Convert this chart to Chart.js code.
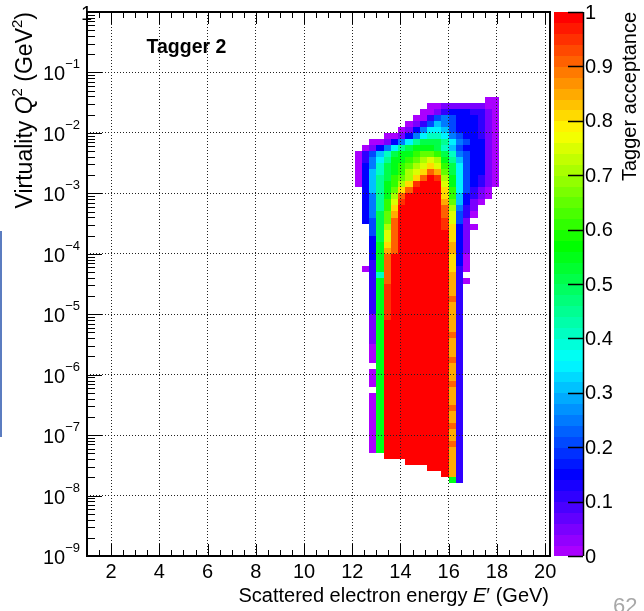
<!DOCTYPE html>
<html>
<head>
<meta charset="utf-8">
<title>Tagger 2 acceptance</title>
<script src="https://cdn.jsdelivr.net/npm/chart.js@4.4.0/dist/chart.umd.min.js"></script>
<style>
    html, body { margin: 0; padding: 0; background: #fff; }
    #wrap { position: relative; width: 644px; height: 611px; overflow: hidden; }
    #slide_edge { position: absolute; left: 0; top: 231px; width: 2px; height: 206px; background: #5b7cc0; }
    #page_no { position: absolute; left: 613px; top: 593px; font: 22px "Liberation Sans", Arial, sans-serif; color: #a8a8a8; }
</style>
</head>
<body>
<div id="wrap">
    <canvas id="acceptance" width="644" height="611"></canvas>
    <div id="slide_edge"></div>
    <div id="page_no">62</div>
</div>
<script>

// bin edges of the scattered electron energy E' (GeV)
const energy_edges = [12.1, 12.4, 12.7, 13.0, 13.3, 13.6, 13.9, 14.2, 14.5, 14.8,
                      15.1, 15.4, 15.7, 16.0, 16.3, 16.6, 16.9, 17.2, 17.5, 17.8, 18.1];

// bin edges in log10(Q2 / GeV2), top row first
const log_q2_edges = [-1.4, -1.5, -1.6, -1.7, -1.8, -1.9, -2.0, -2.1, -2.2, -2.3,
                      -2.4, -2.5, -2.6, -2.7, -2.8, -2.9, -3.0, -3.1, -3.2, -3.3,
                      -3.4, -3.5, -3.6, -3.7, -3.8, -3.9, -4.0, -4.1, -4.2, -4.3,
                      -4.4, -4.5, -4.6, -4.7, -4.8, -4.9, -5.0, -5.1, -5.2, -5.3,
                      -5.4, -5.5, -5.6, -5.7, -5.8, -5.9, -6.0, -6.1, -6.2, -6.3,
                      -6.4, -6.5, -6.6, -6.7, -6.8, -6.9, -7.0, -7.1, -7.2, -7.3,
                      -7.4, -7.5, -7.6, -7.7, -7.8];

// acceptance per cell: one character per energy bin, '.' = empty bin
const level_codes = "0123456789ABCDEFGHIJK";
const acceptance_levels = [0, 0.05, 0.1, 0.15, 0.2, 0.25, 0.3, 0.35, 0.4, 0.45, 0.5,
                           0.55, 0.6, 0.65, 0.7, 0.75, 0.8, 0.85, 0.9, 0.95, 1.0];

const acceptance_rows = [
    "..................00",
    "..........0011111100",
    ".........00123332210",
    "........002454333210",
    ".......0124654333210",
    "......01357764333210",
    "....0013578875433210",
    "..0013579AAA97543310",
    ".013579ABBBA86433310",
    "02468ABBCDDCA8543310",
    "02579BBCDEFEB9643310",
    "0358ABCDEFGFCA743310",
    "0368ABCEFGIHDA743310",
    "0369ACDEGIKJEB743210",
    "0369BCEGJKKKFB743210",
    ".369BDGIKKKKGC74210.",
    ".359BEIKKKKKGC63210.",
    ".359CFJKKKKKHD6310..",
    ".359CGKKKKKKIE521...",
    ".35ADHKKKKKKIF420...",
    ".34ADIKKKKKKJF41....",
    "..4AEIKKKKKKJG310...",
    "..4AFIKKKKKKKG31....",
    "..3AFIKKKKKKKG31....",
    "..3BGIKKKKKKKH31....",
    "..3BHIKKKKKKKH31....",
    "..3BIKKKKKKKKG30....",
    "..2BIKKKKKKKKG30....",
    ".02BIKKKKKKKKG20....",
    "..28IKKKKKKKKH2.....",
    "..2BIKKKKKKKKH20....",
    "..2BJKKKKKKKKH2.....",
    "..2BJKKKKKKKKH2.....",
    "..2BJKKKKKKKKI2.....",
    "..2BJKKKKKKKKH2.....",
    "..2BJKKKKKKKKH2.....",
    "..1BJKKKKKKKKH2.....",
    "..1BKKKKKKKKKH2.....",
    "..1BKKKKKKKKKH2.....",
    "..1BKKKKKKKKKI2.....",
    "..1BKKKKKKKKKH2.....",
    "..0BKKKKKKKKKH2.....",
    "..0BKKKKKKKKKH2.....",
    "..0BKKKKKKKKKI2.....",
    "...BKKKKKKKKKH2.....",
    "..0BKKKKKKKKKH2.....",
    "..0BKKKKKKKKKH2.....",
    "..0BKKKKKKKKKI2.....",
    "...BKKKKKKKKKH2.....",
    "..0BKKKKKKKKKH2.....",
    "..0BKKKKKKKKKH2.....",
    "..0BKKKKKKKKKI2.....",
    "..0BKKKKKKKKKH2.....",
    "..0BKKKKKKKKKH2.....",
    "..0BKKKKKKKKKI2.....",
    "..0BKKKKKKKKKH2.....",
    "..0BKKKKKKKKKH2.....",
    "..0BKKKKKKKKKI2.....",
    "..0BKKKKKKKKKH2.....",
    "....KKKKKKKKKH2.....",
    ".......KKKKKKH2.....",
    "..........KKKH2.....",
    "............KH2.....",
    ".............B2....."
];

const energy_ticks = [2, 4, 6, 8, 10, 12, 14, 16, 18, 20];
const q2_tick_exponents = [-9, -8, -7, -6, -5, -4, -3, -2, -1, 0];
const acceptance_ticks = [0, 0.1, 0.2, 0.3, 0.4, 0.5, 0.6, 0.7, 0.8, 0.9, 1];
const acceptance_tick_labels = ["0", "0.1", "0.2", "0.3", "0.4", "0.5", "0.6", "0.7", "0.8", "0.9", "1"];

const FONT = "'Liberation Sans', Arial, Helvetica, sans-serif";
const BAR_LEFT = 554;
const BAR_RIGHT = 583;

// violet -> red rainbow in 50 steps
function palette_color(v) {
    const band = Math.min(49, Math.floor(v * 50 + 1e-9));
    const hue = 280 * (1 - band / 49);
    return `hsl(${hue.toFixed(1)}, 100%, 50%)`;
}

const cells = [];
acceptance_rows.forEach((row, r) => {
    [...row].forEach((code, c) => {
        if (code === '.') return;
        cells.push({
            x: (energy_edges[c] + energy_edges[c + 1]) / 2,
            y: Math.pow(10, (log_q2_edges[r] + log_q2_edges[r + 1]) / 2),
            e_lo: energy_edges[c],
            e_hi: energy_edges[c + 1],
            q_hi: Math.pow(10, log_q2_edges[r]),
            q_lo: Math.pow(10, log_q2_edges[r + 1]),
            v: acceptance_levels[level_codes.indexOf(code)]
        });
    });
});

// text with mixed styles, right aligned at (x, y)
function draw_rich(ctx, segs, x, y) {
    let total = 0;
    segs.forEach(s => { ctx.font = s.font; s.w = ctx.measureText(s.t).width; total += s.w; });
    let pos = x - total;
    ctx.textAlign = 'left';
    segs.forEach(s => {
        ctx.font = s.font;
        ctx.fillText(s.t, pos, y + (s.dy || 0));
        pos += s.w;
    });
}

const cellPainter = {
    id: 'cellPainter',
    beforeDatasetsDraw(chart) {
        const { ctx, scales: { x, y } } = chart;
        ctx.save();
        chart.data.datasets[0].data.forEach(cell => {
            const left = Math.round(x.getPixelForValue(cell.e_lo));
            const right = Math.round(x.getPixelForValue(cell.e_hi));
            const top = Math.round(y.getPixelForValue(cell.q_hi));
            const bottom = Math.round(y.getPixelForValue(cell.q_lo));
            ctx.fillStyle = palette_color(cell.v);
            ctx.fillRect(left, top, right - left, bottom - top);
        });
        ctx.restore();
    }
};

const frameAndLabels = {
    id: 'frameAndLabels',
    afterDraw(chart) {
        const { ctx, chartArea: area, scales: { x, y, z } } = chart;
        ctx.save();
        ctx.strokeStyle = '#000';
        ctx.fillStyle = '#000';

        // inward ticks, bottom and top
        ctx.lineWidth = 1;
        ctx.beginPath();
        for (let k = 3; k <= 40; k++) {
            const v = k / 2;
            const px = Math.round(x.getPixelForValue(v)) + 0.5;
            const len = (v % 2 === 0) ? 12 : 6;
            ctx.moveTo(px, area.bottom); ctx.lineTo(px, area.bottom - len);
            ctx.moveTo(px, area.top); ctx.lineTo(px, area.top + len);
        }
        // inward ticks, left
        q2_tick_exponents.forEach(e => {
            const py = Math.round(y.getPixelForValue(Math.pow(10, e))) + 0.5;
            ctx.moveTo(area.left, py); ctx.lineTo(area.left + 15, py);
            if (e < 0) {
                for (let m = 2; m <= 9; m++) {
                    const pm = Math.round(y.getPixelForValue(m * Math.pow(10, e))) + 0.5;
                    ctx.moveTo(area.left, pm); ctx.lineTo(area.left + 8, pm);
                }
            }
        });
        ctx.stroke();

        ctx.lineWidth = 2;
        ctx.strokeRect(area.left, area.top, area.right - area.left, area.bottom - area.top);

        // y tick labels as powers of ten
        ctx.textBaseline = 'alphabetic';
        ctx.textAlign = 'right';
        q2_tick_exponents.forEach(e => {
            const py = y.getPixelForValue(Math.pow(10, e));
            if (e === 0) {
                ctx.font = `20px ${FONT}`;
                ctx.fillText('1', 81, py + 8);
            } else {
                draw_rich(ctx, [
                    { t: '10', font: `20px ${FONT}`, dy: 8 },
                    { t: '\u2212' + (-e), font: `13px ${FONT}`, dy: -4 }
                ], 80, py);
            }
        });

        // colour scale
        for (let b = 0; b < 50; b++) {
            const yTop = Math.floor(z.getPixelForValue((b + 1) / 50));
            const yBot = Math.ceil(z.getPixelForValue(b / 50));
            ctx.fillStyle = palette_color((b + 0.5) / 50);
            ctx.fillRect(BAR_LEFT, yTop, BAR_RIGHT - BAR_LEFT, yBot - yTop);
        }
        ctx.fillStyle = '#000';
        ctx.lineWidth = 1.5;
        ctx.beginPath();
        ctx.moveTo(BAR_RIGHT + 0.5, z.getPixelForValue(1));
        ctx.lineTo(BAR_RIGHT + 0.5, z.getPixelForValue(0));
        acceptance_ticks.forEach(v => {
            const py = Math.round(z.getPixelForValue(v)) + 0.5;
            ctx.moveTo(BAR_RIGHT, py); ctx.lineTo(BAR_RIGHT - 15, py);
        });
        ctx.stroke();
        ctx.font = `20px ${FONT}`;
        ctx.textAlign = 'left';
        ctx.textBaseline = 'middle';
        acceptance_ticks.forEach((v, i) => {
            ctx.fillText(acceptance_tick_labels[i], BAR_RIGHT + 2, z.getPixelForValue(v) + 1);
        });

        // titles
        ctx.textBaseline = 'alphabetic';
        draw_rich(ctx, [
            { t: 'Scattered electron energy ', font: `20px ${FONT}` },
            { t: 'E', font: `italic 20px ${FONT}` },
            { t: '\u2032 (GeV)', font: `20px ${FONT}` }
        ], 549, 602);

        ctx.save();
        ctx.translate(32, area.top);
        ctx.rotate(-Math.PI / 2);
        draw_rich(ctx, [
            { t: 'Virtuality ', font: `23px ${FONT}` },
            { t: 'Q', font: `italic 23px ${FONT}` },
            { t: '2', font: `15px ${FONT}`, dy: -10 },
            { t: ' (GeV', font: `23px ${FONT}` },
            { t: '2', font: `15px ${FONT}`, dy: -10 },
            { t: ')', font: `23px ${FONT}` }
        ], 0, 0);
        ctx.restore();

        ctx.save();
        ctx.translate(636, area.top);
        ctx.rotate(-Math.PI / 2);
        ctx.font = `20px ${FONT}`;
        ctx.textAlign = 'right';
        ctx.fillText('Tagger acceptance', 0, 0);
        ctx.restore();

        ctx.font = `bold 19.5px ${FONT}`;
        ctx.textAlign = 'left';
        ctx.fillText('Tagger 2', 146.5, 53);

        ctx.restore();
    }
};

const grid_style = { color: '#222', lineWidth: 1, drawTicks: false, z: 1 };

new Chart(document.getElementById('acceptance'), {
    type: 'scatter',
    data: {
        datasets: [{ label: 'Tagger acceptance', data: cells, pointRadius: 0 }]
    },
    options: {
        responsive: false,
        animation: false,
        events: [],
        layout: { padding: { left: 87, right: 94, top: 12, bottom: 0 } },
        plugins: { legend: { display: false }, tooltip: { enabled: false } },
        scales: {
            x: {
                type: 'linear',
                min: 1,
                max: 20.2,
                afterBuildTicks: s => { s.ticks = energy_ticks.map(v => ({ value: v })); },
                afterFit: s => { s.height = 55; },
                grid: grid_style,
                border: { display: false, dash: [1, 2] },
                ticks: {
                    color: '#000',
                    font: { family: FONT, size: 20 },
                    padding: 4,
                    maxRotation: 0,
                    autoSkip: false
                }
            },
            y: {
                type: 'logarithmic',
                min: 1e-9,
                max: 1,
                afterBuildTicks: s => { s.ticks = q2_tick_exponents.map(e => ({ value: Math.pow(10, e) })); },
                afterFit: s => { s.width = 0; },
                grid: grid_style,
                border: { display: false, dash: [1, 2] },
                ticks: { display: false }
            },
            z: {
                type: 'linear',
                position: 'right',
                min: 0,
                max: 1,
                display: false
            }
        }
    },
    plugins: [cellPainter, frameAndLabels]
});
</script>
</body>
</html>
